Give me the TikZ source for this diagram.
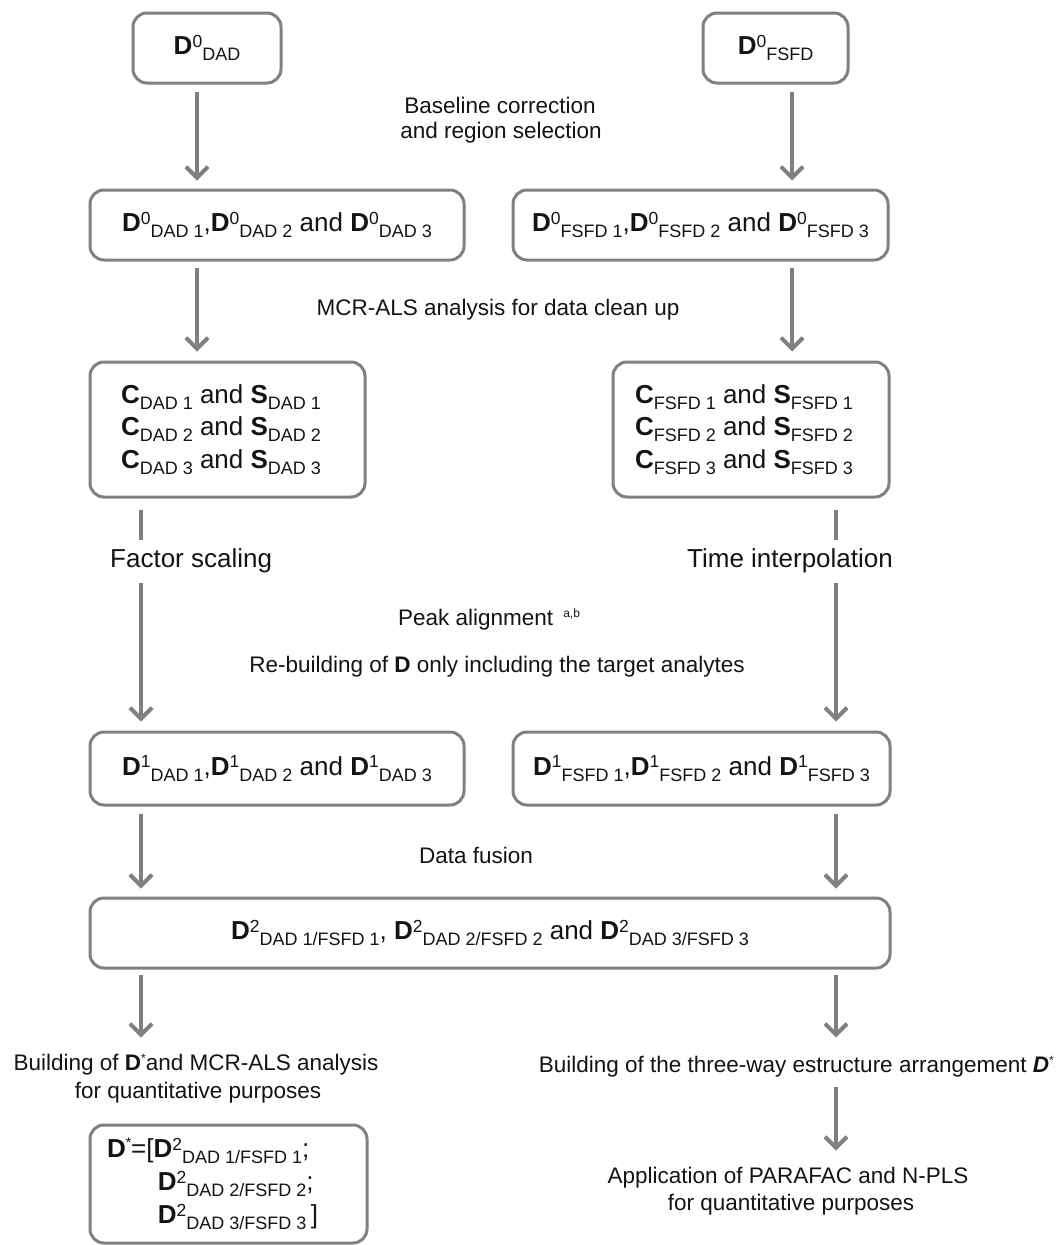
\documentclass[tikz,border=0pt]{standalone}
\usepackage{fontspec}
\setmainfont{Liberation Sans}
\usetikzlibrary{arrows.meta}
\definecolor{lc}{RGB}{128,128,128}
\definecolor{tc}{RGB}{20,20,20}
\newcommand\mysup[1]{\raisebox{7.5pt}{\fontsize{17.5}{17.5}\selectfont\spaceskip=0pt\relax #1}}
\newcommand\mysub[1]{\raisebox{-6pt}{\fontsize{18}{18}\selectfont\spaceskip=0pt\relax #1}}
\newcommand\asup[1]{\raisebox{8pt}{\fontsize{12}{12}\selectfont #1}}
\newcommand\starsup{\raisebox{10pt}{\fontsize{14}{14}\selectfont *}}
\begin{document}
\begin{tikzpicture}[x=1pt,y=-1pt,
  box/.style={draw=lc, line width=3pt, rounded corners=14pt, inner sep=0pt, text=tc,
              font=\fontsize{26}{32.5}\selectfont},
  ann/.style={inner sep=0pt, text=tc, font=\fontsize{22.5}{27}\selectfont},
  big/.style={inner sep=0pt, text=tc, font=\fontsize{26}{30}\selectfont},
  arr/.style={draw=lc, line width=4pt, -{Straight Barb[length=11pt,width=22pt,line width=4pt]}},
  seg/.style={draw=lc, line width=4pt}]
\path[fill=white, use as bounding box] (0,0) rectangle (1056,1245);

% boxes
\node[box, minimum width=148pt, minimum height=70pt] (L0) at (207,48)
  {\textbf{D}\mysup{0}\mysub{DAD}};
\node[box, minimum width=145pt, minimum height=70pt] (R0) at (775.5,48)
  {\textbf{D}\mysup{0}\mysub{FSFD}};
\node[box, minimum width=374pt, minimum height=70pt] (L1) at (277,225)
  {\textbf{D}\mysup{0}\mysub{DAD 1},\textbf{D}\mysup{0}\mysub{DAD 2} and \textbf{D}\mysup{0}\mysub{DAD 3}};
\node[box, minimum width=375pt, minimum height=70pt] (R1) at (700.5,225)
  {\textbf{D}\mysup{0}\mysub{FSFD 1},\textbf{D}\mysup{0}\mysub{FSFD 2} and \textbf{D}\mysup{0}\mysub{FSFD 3}};
\node[box, inner xsep=31pt, text width=213pt, minimum height=135pt, align=left] (L2) at (227.5,429.5)
  {\spaceskip=0pt\relax
   \mbox{\textbf{C}\mysub{DAD 1} and \textbf{S}\mysub{DAD 1}}\\
   \mbox{\textbf{C}\mysub{DAD 2} and \textbf{S}\mysub{DAD 2}}\\
   \mbox{\textbf{C}\mysub{DAD 3} and \textbf{S}\mysub{DAD 3}}};
\node[box, inner xsep=22pt, text width=232pt, minimum height=135pt, align=left] (R2) at (751,429.5)
  {\spaceskip=0pt\relax
   \mbox{\textbf{C}\mysub{FSFD 1} and \textbf{S}\mysub{FSFD 1}}\\
   \mbox{\textbf{C}\mysub{FSFD 2} and \textbf{S}\mysub{FSFD 2}}\\
   \mbox{\textbf{C}\mysub{FSFD 3} and \textbf{S}\mysub{FSFD 3}}};
\node[box, minimum width=374pt, minimum height=73pt] (L3) at (277,768.5)
  {\textbf{D}\mysup{1}\mysub{DAD 1},\textbf{D}\mysup{1}\mysub{DAD 2} and \textbf{D}\mysup{1}\mysub{DAD 3}};
\node[box, minimum width=377pt, minimum height=73pt] (R3) at (701.5,768.5)
  {\textbf{D}\mysup{1}\mysub{FSFD 1},\textbf{D}\mysup{1}\mysub{FSFD 2} and \textbf{D}\mysup{1}\mysub{FSFD 3}};
\node[box, minimum width=800pt, minimum height=70pt] (D2) at (490,933)
  {\textbf{D}\mysup{2}\mysub{DAD 1/FSFD 1}, \textbf{D}\mysup{2}\mysub{DAD 2/FSFD 2} and \textbf{D}\mysup{2}\mysub{DAD 3/FSFD 3}};
\node[box, inner xsep=17pt, text width=243pt, minimum height=118pt, align=left,
      font=\fontsize{26}{33}\selectfont] (DS) at (228.5,1184)
  {\spaceskip=0pt\relax
   \mbox{\textbf{D}\starsup=[\textbf{D}\mysup{2}\mysub{DAD 1/FSFD 1};}\\
   \mbox{\hphantom{\textbf{D}\starsup=[}\,\textbf{D}\mysup{2}\mysub{DAD 2/FSFD 2};}\\
   \mbox{\hphantom{\textbf{D}\starsup=[}\,\textbf{D}\mysup{2}\mysub{DAD 3/FSFD 3}\,]}};

% texts
\node[ann, anchor=base] (bc1) at (500,113) {Baseline correction};
\node[ann, anchor=base] (bc2) at (501,138) {and region selection};
\node[ann, anchor=base] (mcr) at (498,315) {MCR-ALS analysis for data clean up};
\node[big, anchor=base west] (fs) at (110,567) {Factor scaling};
\node[big, anchor=base west] (ti) at (687,567) {Time interpolation};
\node[ann, anchor=base west] (pa) at (398,625) {Peak alignment\hspace{10pt}\asup{a,b}};
\node[ann, anchor=base] (rb) at (497,672) {Re-building of \textbf{D} only including the target analytes};
\node[ann, anchor=base] (df) at (476,863) {Data fusion};
\node[ann, anchor=base] (bl1) at (196,1070) {Building of \textbf{D}\asup{*}and MCR-ALS analysis};
\node[ann, anchor=base] (bl2) at (198,1098) {for quantitative purposes};
\node[ann, anchor=base east] (br) at (1054,1072) {Building of the three-way estructure arrangement \textbf{\textit{D}}\asup{*}};
\node[ann, anchor=base] (ap1) at (788,1183) {Application of PARAFAC and N-PLS};
\node[ann, anchor=base] (ap2) at (791,1210) {for quantitative purposes};

% x positions of connectors
\coordinate (xa) at (197,0);
\coordinate (xb) at (792,0);
\coordinate (xc) at (141,0);
\coordinate (xd) at (836,0);

% connectors
\draw[arr, shorten <=7pt, shorten >=8pt] (L0.south -| xa) -- (L1.north -| xa);
\draw[arr, shorten <=7pt, shorten >=8pt] (R0.south -| xb) -- (R1.north -| xb);
\draw[arr, shorten <=6pt, shorten >=9pt] (L1.south -| xa) -- (L2.north -| xa);
\draw[arr, shorten <=6pt, shorten >=9pt] (R1.south -| xb) -- (R2.north -| xb);
\draw[seg, shorten <=11pt, shorten >=8pt] (L2.south -| xc) -- (fs.north -| xc);
\draw[seg, shorten <=11pt, shorten >=8pt] (R2.south -| xd) -- (ti.north -| xd);
\draw[arr, shorten <=10pt, shorten >=9pt] (fs.south -| xc) -- (L3.north -| xc);
\draw[arr, shorten <=10pt, shorten >=9pt] (ti.south -| xd) -- (R3.north -| xd);
\draw[arr, shorten <=7pt, shorten >=8pt] (L3.south -| xc) -- (D2.north -| xc);
\draw[arr, shorten <=7pt, shorten >=8pt] (R3.south -| xd) -- (D2.north -| xd);
\draw[arr, shorten <=5pt, shorten >=16pt] (D2.south -| xc) -- (bl1.north -| xc);
\draw[arr, shorten <=5pt, shorten >=18pt] (D2.south -| xd) -- (br.north -| xd);
\draw[arr, shorten <=10pt, shorten >=16pt] (br.south -| xd) -- (ap1.north -| xd);
\end{tikzpicture}
\end{document}
